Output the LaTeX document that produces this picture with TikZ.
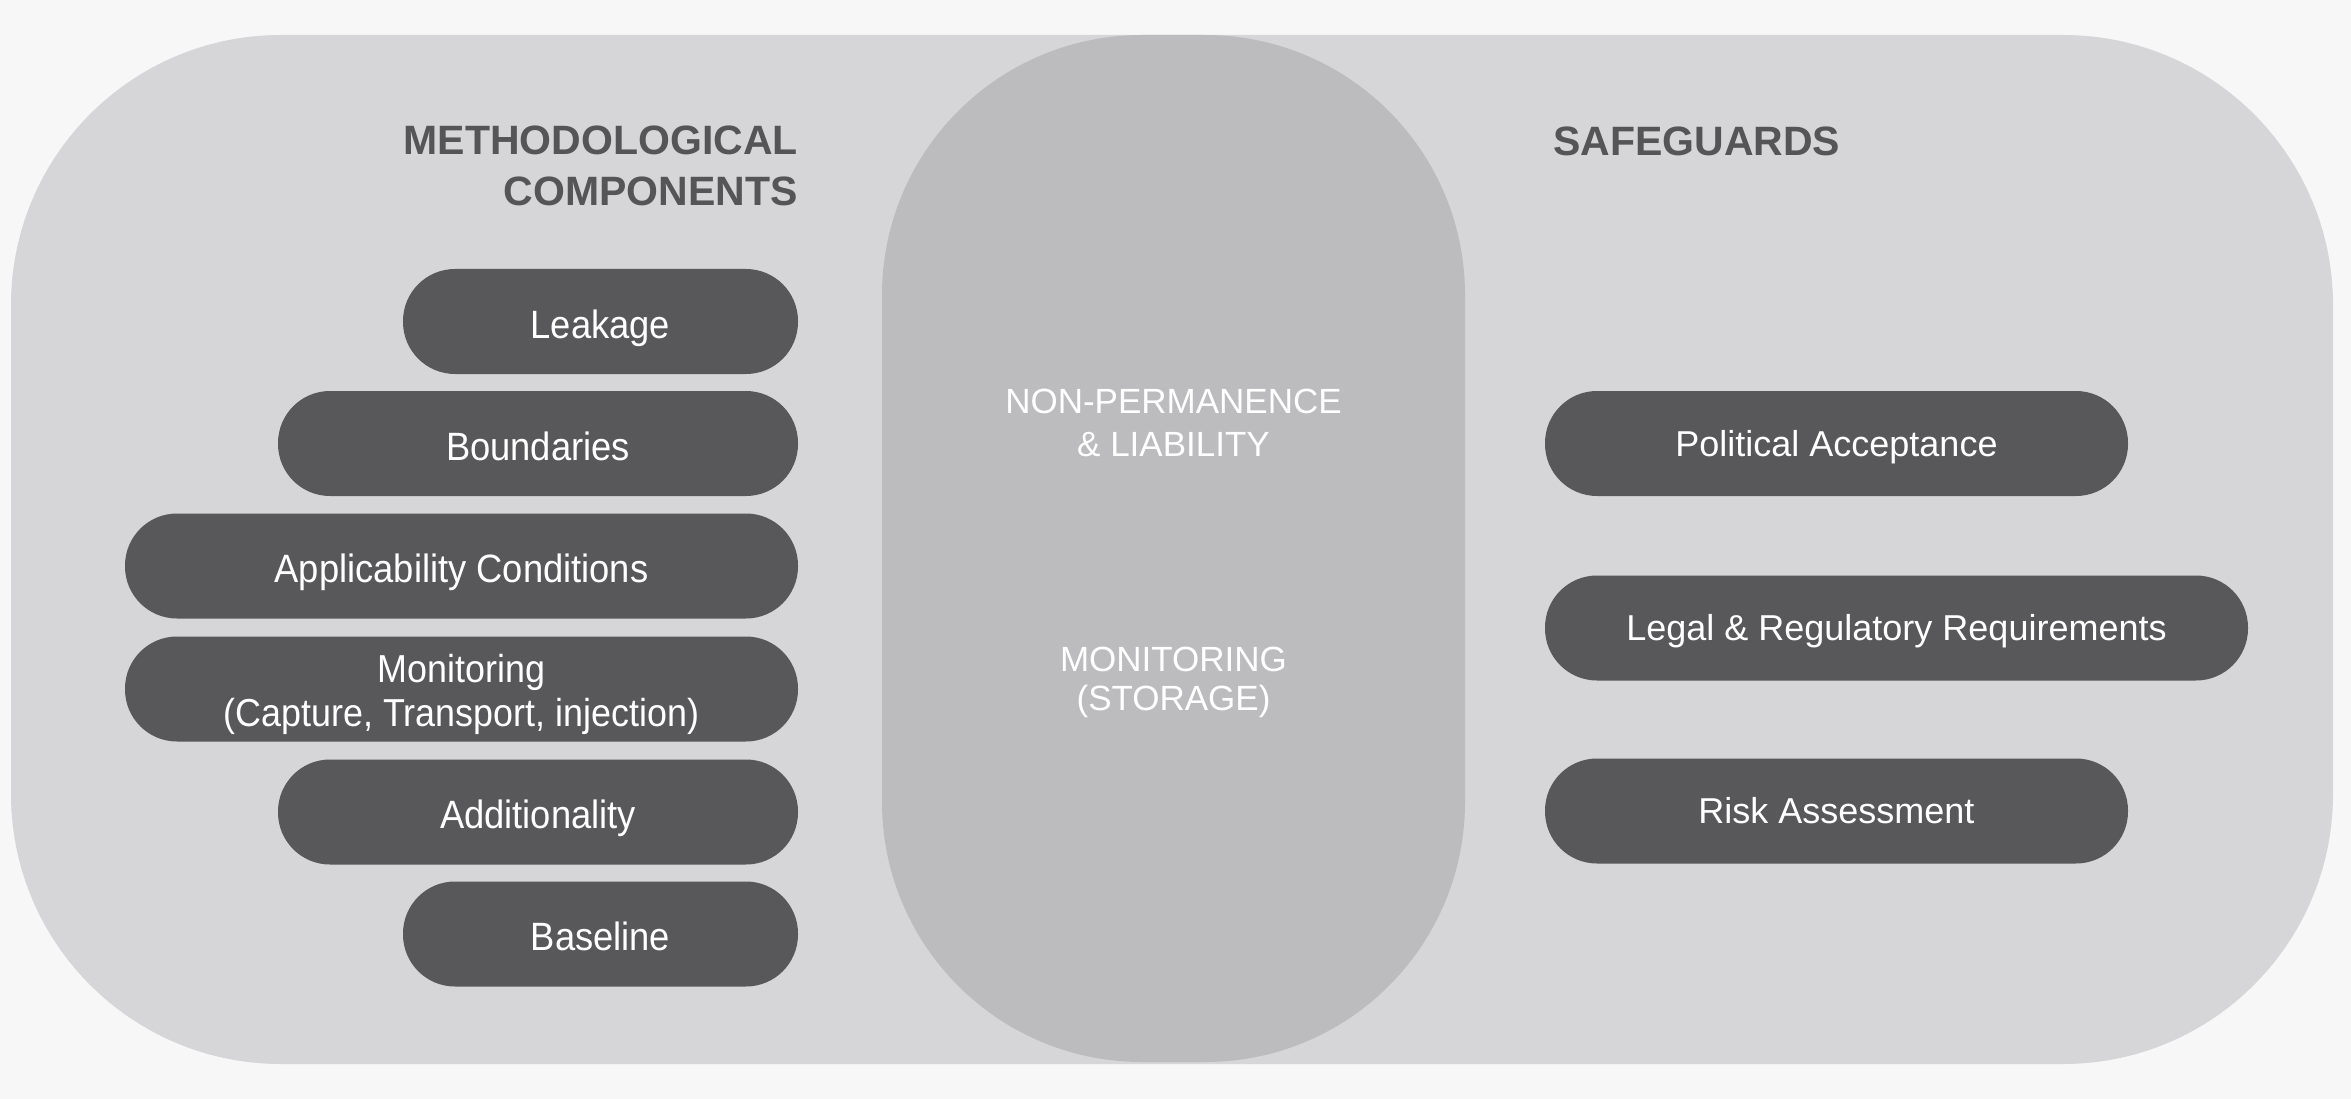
\documentclass[tikz,border=0pt]{standalone}
\usepackage{fontspec}
\setmainfont{Liberation Sans}
\newfontfamily\pillfont[FakeStretch=0.92]{Liberation Sans}
\definecolor{bgc}{HTML}{F7F7F7}
\definecolor{outerc}{HTML}{D6D6D8}
\definecolor{centerc}{HTML}{BCBCBE}
\definecolor{pillc}{HTML}{58585A}
\definecolor{headc}{HTML}{555557}
\begin{document}
\begin{tikzpicture}[x=1pt,y=-1pt,
  lpill/.style={fill=pillc, text=white, rounded corners=52pt, minimum height=105pt, inner sep=0pt,
    font=\pillfont\fontsize{39.5}{44}\selectfont, text height=33.6pt, text depth=0pt},
  rpill/.style={fill=pillc, text=white, rounded corners=52pt, minimum height=105pt, inner sep=0pt,
    font=\fontsize{36}{43}\selectfont, text height=25.8pt, text depth=0pt},
  header/.style={text=headc, inner sep=0pt, font=\bfseries\fontsize{41}{51}\selectfont},
  coretext/.style={text=white, inner sep=0pt, align=center}
]
\useasboundingbox (0,0) rectangle (2351,1099);
\fill[bgc] (0,0) rectangle (2351,1099);
\fill[outerc, rounded corners=270pt] (11,35) rectangle (2333,1064);
\node[fill=centerc, rounded corners=260pt, minimum width=583pt, minimum height=1027pt, inner sep=0pt] (core) at (1173.5,548.5) {};

% headers
\node[header, align=right, anchor=north east] (meth) at (798,126) {METHODOLOGICAL\\COMPONENTS};
\node[header, anchor=base west] (safe) at (1553,155.5) {SAFEGUARDS};

% centre texts
\node[coretext, font=\fontsize{35}{43}\selectfont] (perm) at (1173.5,422.5) {NON-PERMANENCE\\\& LIABILITY};
\node[coretext, font=\fontsize{35}{39.5}\selectfont] (stor) at (1173.5,682.5) {MONITORING\\(STORAGE)};

% left pills
\node[lpill, minimum width=395pt] (leak) at (600.5,321.5) {Leakage};
\node[lpill, minimum width=520pt] (bound) at (538,443.5) {Boundaries};
\node[lpill, minimum width=673pt] (appl) at (461.5,566) {Applicability Conditions};
\node[lpill, minimum width=673pt] (monp) at (461.5,689) {};
\node[text=white, inner sep=0pt, align=center, font=\pillfont\fontsize{39}{44}\selectfont] (montxt) at ([yshift=-5pt]monp.center) {Monitoring\\(Capture, Transport, injection)};
\node[lpill, minimum width=520pt] (addl) at (538,812) {Additionality};
\node[lpill, minimum width=395pt] (baseln) at (600.5,934) {Baseline};

% right pills
\node[rpill, minimum width=583pt] (pol) at (1836.5,443.5) {Political Acceptance};
\node[rpill, minimum width=703pt] (legal) at (1896.5,628) {Legal \& Regulatory Requirements};
\node[rpill, minimum width=583pt] (risk) at (1836.5,811) {Risk Assessment};
\end{tikzpicture}
\end{document}
